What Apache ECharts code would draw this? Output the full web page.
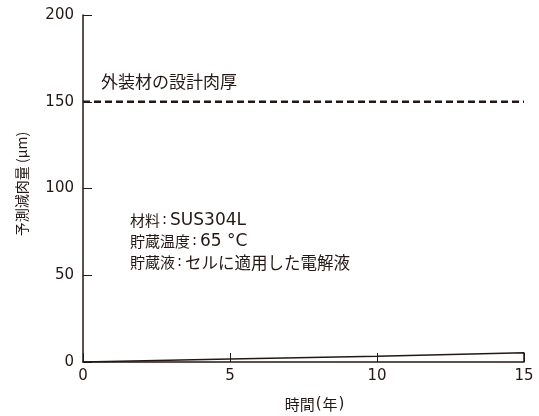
<!DOCTYPE html>
<html>
<head>
<meta charset="utf-8">
<script src="https://cdn.jsdelivr.net/npm/echarts@6/dist/echarts.min.js"></script>
<style>
  html, body { margin: 0; padding: 0; background: #fff; }
  #chart { width: 539px; height: 416px; }
</style>
</head>
<body>
<div id="chart"></div>
<script>
// Predicted wall loss (μm) over storage time (years)
const years = [0, 5, 10, 15];
const wallLoss = [0, 1.8, 3.3, 5.3];
const designThickness = 150;
const xTicks = [0, 5, 10, 15];
const yTicks = [0, 50, 100, 150, 200];
const designLabel = '外装材の設計肉厚';
const noteKeys = ['材料', '貯蔵温度', '貯蔵液'];
const noteValues = ['SUS304L', '65 °C', 'セルに適用した電解液'];
const xName = ['時間', '年'];
const yName = '予測減肉量 (μm)';

const LATIN = '"DejaVu Sans", sans-serif';
const CJK = '"Noto Sans CJK JP", sans-serif';
const INK = '#231815';

// Outline of the loss curve, closed back down to the axis at the last year
const lossOutline = years.map((y, i) => [y, wallLoss[i]]);
lossOutline.push([years[years.length - 1], 0]);

// Condition notes: "key:value" per line, Latin values set in a wider face
const hasCJK = s => /[\u3040-\u30ff\u4e00-\u9fff]/.test(s);
const noteText = noteKeys
  .map((k, i) => `{k|${k}}{s|:}{${hasCJK(noteValues[i]) ? 'vj' : 'vl'}|${noteValues[i]}}`)
  .join('\n');

const chart = echarts.init(document.getElementById('chart'), null, { renderer: 'canvas' });

chart.setOption({
  backgroundColor: '#fff',
  animation: false,
  grid: { left: 83, right: 15, top: 15, bottom: 54, containLabel: false },
  xAxis: {
    type: 'value',
    min: xTicks[0],
    max: xTicks[xTicks.length - 1],
    interval: 5,
    axisLine: { show: true, lineStyle: { color: INK, width: 1.5 } },
    axisTick: { show: true, inside: true, length: 9, lineStyle: { color: INK, width: 1 } },
    axisLabel: { color: INK, fontFamily: LATIN, fontSize: 15, margin: 7 },
    splitLine: { show: false }
  },
  yAxis: {
    type: 'value',
    min: yTicks[0],
    max: yTicks[yTicks.length - 1],
    interval: 50,
    axisLine: { show: true, lineStyle: { color: INK, width: 1.5 } },
    axisTick: { show: true, inside: true, length: 9, lineStyle: { color: INK, width: 1 } },
    axisLabel: { color: INK, fontFamily: LATIN, fontSize: 15, margin: 9 },
    splitLine: { show: false }
  },
  series: [
    {
      type: 'line',
      data: lossOutline,
      symbol: 'none',
      lineStyle: { color: INK, width: 1.5 },
      z: 3
    },
    {
      type: 'line',
      data: [[xTicks[0], designThickness], [xTicks[xTicks.length - 1], designThickness]],
      symbol: 'none',
      lineStyle: { color: INK, width: 2.5, type: [7, 4] },
      z: 2
    }
  ],
  graphic: [
    {
      type: 'text',
      left: 101,
      top: 73,
      style: { text: designLabel, fill: INK, font: '17px ' + CJK }
    },
    {
      type: 'text',
      left: 130,
      top: 212,
      style: {
        text: noteText,
        fill: INK,
        rich: {
          k: { fontFamily: CJK, fontSize: 15, lineHeight: 21, fill: INK },
          s: { fontFamily: LATIN, fontSize: 15, lineHeight: 21, padding: [0, 3, 0, 2], fill: INK },
          vl: { fontFamily: LATIN, fontSize: 17, lineHeight: 21, fill: INK },
          vj: { fontFamily: CJK, fontSize: 16.5, lineHeight: 21, fill: INK }
        }
      }
    },
    {
      type: 'text',
      x: 315,
      y: 404,
      style: {
        text: `{c|${xName[0]}}{p|(}{c|${xName[1]}}{p|)}`,
        align: 'center',
        verticalAlign: 'middle',
        fill: INK,
        rich: {
          c: { fontFamily: CJK, fontSize: 15, fill: INK },
          p: { fontFamily: LATIN, fontSize: 15, padding: [0, 1], fill: INK }
        }
      }
    },
    {
      type: 'text',
      x: 22,
      y: 184,
      rotation: Math.PI / 2,
      style: { text: yName, fill: INK, font: '14px ' + CJK, align: 'center', verticalAlign: 'middle' }
    }
  ]
});
</script>
</body>
</html>
